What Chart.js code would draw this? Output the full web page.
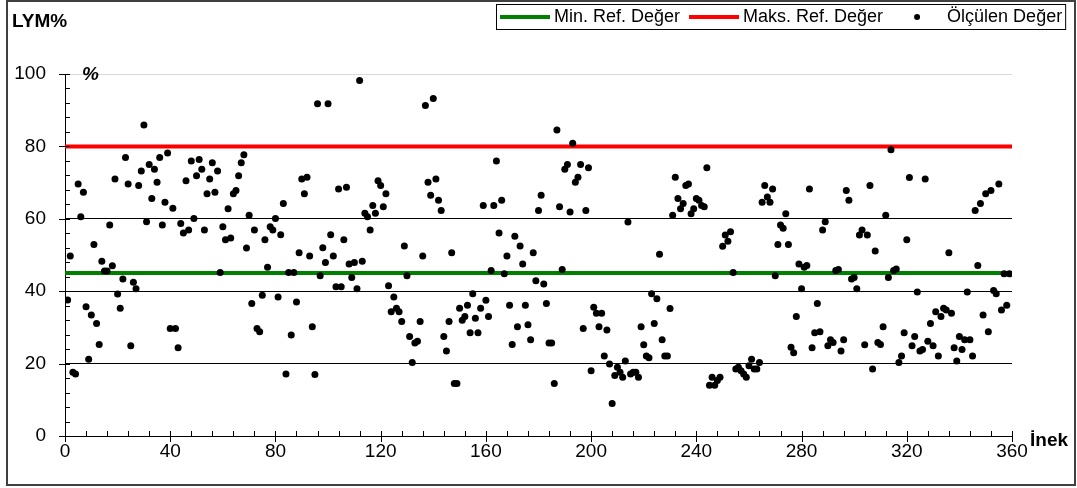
<!DOCTYPE html>
<html>
<head>
<meta charset="utf-8">
<script src="https://cdn.jsdelivr.net/npm/chart.js@4/dist/chart.umd.min.js"></script>
<style>
  html, body { margin: 0; padding: 0; background: #fff; }
  #wrap { width: 1077px; height: 488px; }
</style>
</head>
<body>
<div id="wrap"><canvas id="lym-chart" width="1077" height="488"></canvas></div>
<script>
// LYM% per cow, in cow order
const lymValues = [
  37.6, 49.7, 17.6, 17.1, 69.6, 60.6, 67.3, 35.7, 21.2, 33.4, 52.9, 31.1, 25.3, 48.3, 45.6, 45.6,
  58.3, 47.0, 71.0, 39.2, 35.3, 43.4, 76.9, 69.6, 24.9, 42.5, 40.7, 69.2, 73.2, 85.9, 59.2, 75.0,
  65.6, 73.7, 70.1, 76.9, 58.3, 64.6, 78.2, 29.7, 62.9, 29.7, 24.4, 58.7, 56.1, 70.5, 56.9,
  76.0, 60.1, 71.9, 76.4, 73.7, 56.9, 66.9, 71.0, 75.5, 67.3, 73.2, 45.2, 57.8, 54.2, 62.8, 54.7,
  66.9, 67.8, 71.9, 75.5, 77.7, 51.9, 61.0, 36.6, 56.9, 29.7, 28.8, 38.9, 54.2, 46.6, 57.8, 56.9,
  60.1, 38.4, 55.6, 64.2, 17.1, 45.2, 27.9, 45.2, 37.0, 50.6, 71.0, 66.9, 71.5, 49.7, 30.2,
  17.0, 91.8, 44.3, 52.0, 47.9, 91.8, 55.6, 49.7, 41.2, 68.2, 41.2, 54.2, 68.7, 47.5, 43.8, 47.9,
  40.7, 98.2, 48.3, 61.5, 60.6, 56.9, 63.7, 61.5, 70.5, 69.2, 63.3, 66.9, 41.5, 34.3, 38.4, 35.3,
  34.3, 31.6, 52.5, 44.3, 27.5, 20.3, 25.7, 26.2, 31.6, 49.7, 91.3, 70.1, 66.5,
  93.2, 71.0, 65.1, 62.3, 27.5, 23.5, 31.6, 50.6, 14.5, 14.5, 35.3, 32.0, 33.0, 36.1, 28.5, 39.3,
  32.5, 28.5, 35.3, 63.7, 37.5, 33.0, 45.7, 63.7, 76.0, 56.1, 65.1, 44.8, 49.7, 36.1, 25.3, 55.2,
  30.2, 52.5, 47.5, 36.1, 30.7, 26.6, 50.6, 42.9, 62.3, 66.5, 42.0, 36.6, 25.7,
  25.7, 14.5, 84.5, 63.3, 46.0, 73.7, 75.0, 61.9, 80.9, 70.1, 71.5, 75.0, 29.7, 62.3, 74.1, 18.0,
  35.6, 33.9, 30.2, 33.9, 22.1, 29.3, 19.9, 9.0, 16.7, 19.0, 17.6, 16.2, 20.7, 59.1, 17.1, 17.6,
  17.6, 16.2, 30.2, 25.2, 22.1, 21.6, 39.3, 31.1, 37.9, 50.2, 26.6, 22.1, 22.1, 35.2,
  61.0, 71.5, 65.6, 62.8, 64.2, 69.2, 69.6, 61.4, 62.8, 65.6, 65.1, 63.7, 63.3, 74.1, 14.0, 16.2,
  14.0, 15.3, 16.2, 52.4, 55.5, 53.8, 56.4, 45.2, 18.5, 19.0, 18.0, 17.1, 16.2, 19.4, 21.2, 18.5,
  18.5, 20.3, 64.6, 69.2, 66.0, 64.6, 68.2, 44.3, 52.9, 58.3, 57.4, 61.4, 52.9,
  24.5, 23.0, 33.0, 47.5, 40.7, 46.6, 47.1, 68.2, 24.4, 28.5, 36.6, 28.8, 56.9, 59.2, 24.9, 26.6,
  25.8, 45.7, 46.0, 23.5, 26.6, 67.8, 65.1, 43.4, 43.8, 40.7, 55.5, 56.9, 25.2, 55.5, 69.2, 18.5,
  51.1, 25.8, 25.3, 30.2, 61.0, 43.8, 79.1, 45.7, 46.1, 20.3, 22.1, 28.5, 54.2, 71.4,
  24.9, 27.5, 39.8, 23.5, 23.9, 71.0, 26.2, 31.1, 24.9, 34.3, 22.1, 33.0, 35.3, 34.8, 50.6, 33.9,
  24.4, 20.7, 27.5, 23.9, 26.6, 39.8, 26.6, 22.1, 62.3, 47.1, 64.2, 33.4, 66.9, 28.8, 67.8, 40.2,
  39.3, 69.6, 34.8, 44.8, 36.1, 44.8
];
const minRef = 45;
const maxRef = 80;
const xRange = [0, 360];
const yRange = [0, 100];
const xStep = 40;
const yStep = 20;
const seriesNames = ['Min. Ref. Değer', 'Maks. Ref. Değer', 'Ölçülen Değer'];

const FONT = '"Liberation Sans", Arial, sans-serif';

// eksen çentikleri, başlıklar, lejant ve çerçeve
const decorPlugin = {
  id: 'decor',
  afterDraw(chart) {
    const { ctx, chartArea: a, scales } = chart;
    const xs = scales.x, ys = scales.y;
    ctx.save();
    ctx.strokeStyle = '#000';
    ctx.lineWidth = 1;
    ctx.beginPath();
    for (let v = yRange[0]; v <= yRange[1]; v += 4) {
      const py = Math.round(ys.getPixelForValue(v)) + 0.5;
      const major = v % yStep === 0;
      ctx.moveTo(a.left - (major ? 6 : 0), py);
      ctx.lineTo(a.left + 5, py);
    }
    for (let v = xRange[0]; v <= xRange[1]; v += 8) {
      const px = Math.round(xs.getPixelForValue(v)) + 0.5;
      const major = v % xStep === 0;
      ctx.moveTo(px, a.bottom - 5);
      ctx.lineTo(px, a.bottom + (major ? 6 : 0));
    }
    ctx.stroke();

    ctx.fillStyle = '#000';
    ctx.textBaseline = 'middle';
    ctx.textAlign = 'left';
    ctx.font = 'bold 19px ' + FONT;
    ctx.fillText('LYM%', 12, 22);
    ctx.fillText('İnek', 1030, 441);
    ctx.font = 'italic bold 19px ' + FONT;
    ctx.fillText('%', 82, 75);

    // lejant
    const ly = 17;
    ctx.font = '18px ' + FONT;
    let x = 500;
    const colors = ['#008000', '#ff0000'];
    for (let i = 0; i < 2; i++) {
      ctx.fillStyle = colors[i];
      ctx.fillRect(x, ly - 2, 50, 4);
      x += 54;
      ctx.fillStyle = '#000';
      ctx.fillText(seriesNames[i], x, ly);
      x += ctx.measureText(seriesNames[i]).width + 9;
    }
    x += 20;
    ctx.beginPath();
    ctx.arc(x + 5, ly, 3, 0, Math.PI * 2);
    ctx.fill();
    x += 35;
    ctx.fillText(seriesNames[2], x, ly);
    const right = x + ctx.measureText(seriesNames[2]).width + 3;
    ctx.strokeStyle = '#000';
    ctx.strokeRect(496.5, 4.5, right - 496, 25);

    // dış çerçeve
    ctx.strokeStyle = '#404040';
    ctx.lineWidth = 2;
    ctx.strokeRect(7, 1, 1068, 484);
    ctx.restore();
  }
};

const ctx = document.getElementById('lym-chart').getContext('2d');
new Chart(ctx, {
  data: {
    datasets: [
      {
        type: 'scatter',
        label: seriesNames[2],
        data: lymValues.map((v, i) => ({ x: i + 1, y: v })),
        backgroundColor: '#000',
        borderWidth: 0,
        pointRadius: 3.5,
        pointHoverRadius: 3.5,
        order: 0,
      },
      {
        type: 'line',
        label: seriesNames[0],
        data: [{ x: xRange[0], y: minRef }, { x: xRange[1], y: minRef }],
        borderColor: '#008000',
        borderWidth: 4,
        pointRadius: 0,
        order: 1,
      },
      {
        type: 'line',
        label: seriesNames[1],
        data: [{ x: xRange[0], y: maxRef }, { x: xRange[1], y: maxRef }],
        borderColor: '#ff0000',
        borderWidth: 4,
        pointRadius: 0,
        order: 1,
      },
    ],
  },
  options: {
    responsive: false,
    animation: false,
    devicePixelRatio: 1,
    layout: { padding: { top: 74, right: 65, bottom: 0, left: 0 } },
    plugins: { legend: { display: false }, tooltip: { enabled: false } },
    scales: {
      x: {
        type: 'linear',
        min: xRange[0],
        max: xRange[1],
        afterFit(scale) { scale.height = 52; },
        ticks: { stepSize: xStep, maxRotation: 0, padding: 4, color: '#000', font: { family: FONT, size: 19 } },
        grid: { display: false, drawTicks: false },
        border: { display: true, color: '#000', width: 1 },
      },
      y: {
        type: 'linear',
        min: yRange[0],
        max: yRange[1],
        afterFit(scale) { scale.width = 65; },
        ticks: { stepSize: yStep, padding: 19, color: '#000', font: { family: FONT, size: 19 } },
        grid: {
          drawTicks: false,
          color: (c) => (c.tick && c.tick.value === yRange[1] ? '#d9d9d9' : '#000'),
          lineWidth: 1,
        },
        border: { display: true, color: '#000', width: 1 },
      },
    },
  },
  plugins: [decorPlugin],
});
</script>
</body>
</html>
